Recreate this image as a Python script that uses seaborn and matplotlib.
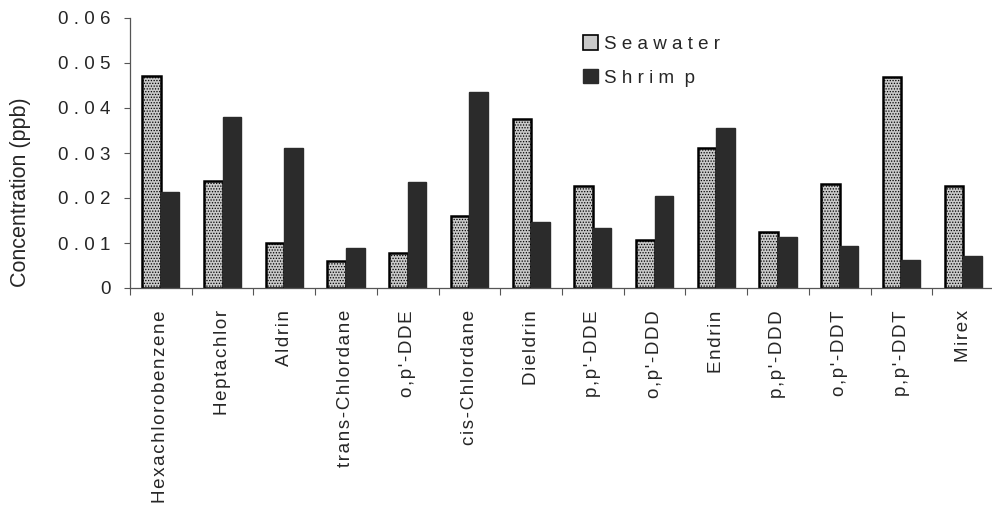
import matplotlib
matplotlib.use("Agg")
import matplotlib.pyplot as plt
import matplotlib.patches as mpatches
import pandas as pd
import seaborn as sns

compounds = [
    "Hexachlorobenzene", "Heptachlor", "Aldrin", "trans-Chlordane", "o,p'-DDE",
    "cis-Chlordane", "Dieldrin", "p,p'-DDE", "o,p'-DDD", "Endrin",
    "p,p'-DDD", "o,p'-DDT", "p,p'-DDT", "Mirex",
]
seawater = [0.0471, 0.0238, 0.0099, 0.0060, 0.0078, 0.0160, 0.0376,
            0.0227, 0.0107, 0.0312, 0.0124, 0.0231, 0.0469, 0.0227]
shrimp = [0.0213, 0.0380, 0.0311, 0.0089, 0.0236, 0.0436, 0.0147,
          0.0133, 0.0205, 0.0356, 0.0113, 0.0093, 0.0062, 0.0071]
series_names = ["Seawater", "Shrimp"]
y_ticks = [0, 0.01, 0.02, 0.03, 0.04, 0.05, 0.06]
y_tick_labels = ["0", "0.01", "0.02", "0.03", "0.04", "0.05", "0.06"]

df = pd.DataFrame({
    "Compound": compounds * 2,
    "Sample": [series_names[0]] * len(compounds) + [series_names[1]] * len(compounds),
    "Concentration": seawater + shrimp,
})

sns.set_theme(style="white")
plt.rcParams["font.family"] = ["Liberation Sans", "DejaVu Sans"]
plt.rcParams["hatch.color"] = "#a0a0a0"
plt.rcParams["hatch.linewidth"] = 0.6

LIGHT = "#c9c9c9"
DARK = "#2b2b2b"


def spaced(text, sep=" "):
    return sep.join(text)


fig = plt.figure(figsize=(9.92, 5.08), dpi=100)
ax = fig.add_axes([130 / 992, 1 - 288 / 508, 864 / 992, 270 / 508])

sns.barplot(
    data=df, x="Compound", y="Concentration", hue="Sample",
    order=compounds, hue_order=series_names,
    palette=[LIGHT, DARK], width=0.6, gap=0, saturation=1,
    legend=False, ax=ax,
)

n = len(compounds)
for i, patch in enumerate(ax.patches[: 2 * n]):
    if i < n:
        patch.set_facecolor(LIGHT)
        patch.set_edgecolor("black")
        patch.set_linewidth(1.8)
        patch.set_hatch("......")
    else:
        patch.set_facecolor(DARK)
        patch.set_edgecolor(DARK)
        patch.set_linewidth(1.0)

ax.set_xlim(-0.5, n - 0.5)
ax.set_ylim(0, 0.06)

ax.set_yticks(y_ticks)
ax.set_yticklabels([spaced(t) for t in y_tick_labels], fontsize=13.5)
ax.tick_params(axis="y", left=True, length=4, width=0.8, color="#555555", pad=10)

ax.set_xticks(range(n))
ax.set_xticklabels([spaced(c, "\u200a") for c in compounds], rotation=90,
                   fontsize=13.5, va="top", ha="center")
ax.tick_params(axis="x", bottom=False, length=0, pad=16)
ax.set_xticks([i - 0.5 for i in range(n + 1)], minor=True)
ax.tick_params(axis="x", which="minor", bottom=True, length=5, width=0.8,
               color="#555555")

for s in ["top", "right"]:
    ax.spines[s].set_visible(False)
for s in ["left", "bottom"]:
    ax.spines[s].set_color("#555555")
    ax.spines[s].set_linewidth(0.9)

ax.set_xlabel("")
ax.set_ylabel("")
fig.text(21 / 992, 1 - 192 / 508, "Concentration (ppb)",
         rotation=90, ha="center", va="center", fontsize=15.5)

handles = [
    mpatches.Patch(facecolor=LIGHT, edgecolor="black", linewidth=1.2),
    mpatches.Patch(facecolor=DARK, edgecolor=DARK),
]
fig.legend(handles, [spaced("Seawater"), "S h r i m  p"],
           loc="upper left", bbox_to_anchor=(574 / 992, 1 - 26 / 508),
           frameon=False, fontsize=13.5, handlelength=0.8, handleheight=0.8,
           handletextpad=0.3, labelspacing=0.85, borderpad=0)

fig.savefig("out.png", dpi=100)
